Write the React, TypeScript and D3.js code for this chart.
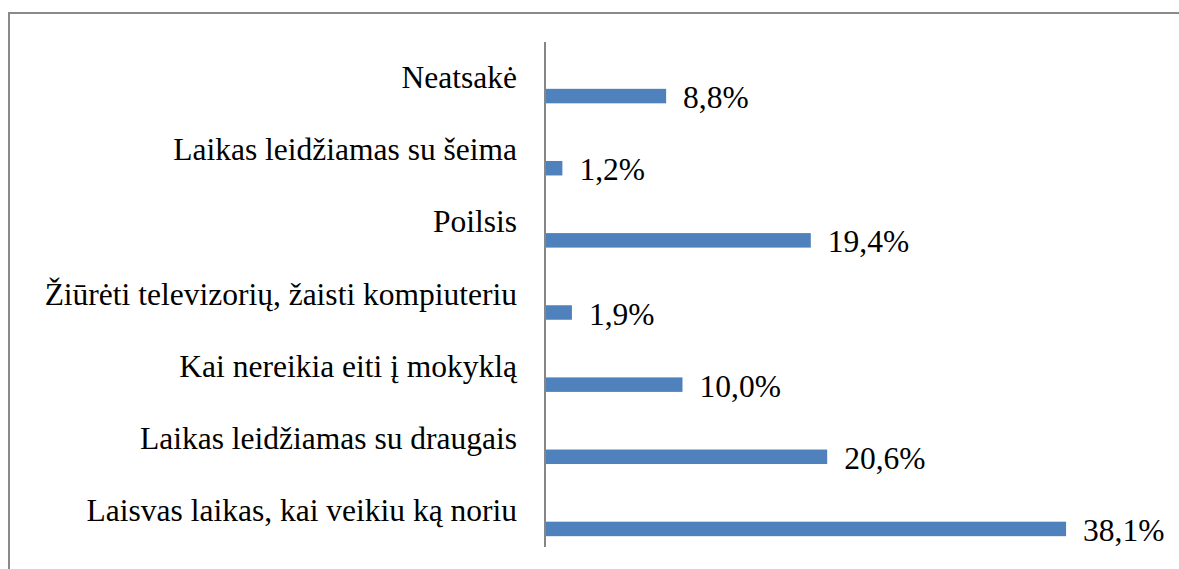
import { useEffect, useRef } from 'react';
import * as d3 from 'd3';

const categories = [
  'Neatsakė',
  'Laikas leidžiamas su šeima',
  'Poilsis',
  'Žiūrėti televizorių, žaisti kompiuteriu',
  'Kai nereikia eiti į mokyklą',
  'Laikas leidžiamas su draugais',
  'Laisvas laikas, kai veikiu ką noriu',
];
const values = [8.8, 1.2, 19.4, 1.9, 10.0, 20.6, 38.1];
const valueLabels = ['8,8%', '1,2%', '19,4%', '1,9%', '10,0%', '20,6%', '38,1%'];

export default function App() {
  const svgRef = useRef<SVGSVGElement | null>(null);

  useEffect(() => {
    if (!svgRef.current) return;
    const svg = d3.select(svgRef.current);
    svg.selectAll('*').remove();

    const width = 1179;
    const height = 569;
    const axisX = 545;
    const top = 42;
    const bottom = 547;
    const font = "'Liberation Serif', serif";

    const data = categories.map((c, i) => ({ cat: c, value: values[i], label: valueLabels[i] }));

    const x = d3.scaleLinear().domain([0, 40]).range([axisX + 1, axisX + 1 + 546]);
    const y = d3.scaleBand().domain(categories).range([top, bottom]);
    const barOffset = 18;
    const barH = 14.5;

    // outer frame
    svg.append('rect')
      .attr('x', 9)
      .attr('y', 13)
      .attr('width', width + 20)
      .attr('height', height + 20)
      .attr('fill', 'white')
      .attr('stroke', '#8a8a8a')
      .attr('stroke-width', 2);

    // bars
    svg.append('g')
      .selectAll('rect')
      .data(data)
      .join('rect')
      .attr('x', x(0))
      .attr('y', d => y(d.cat)! + y.bandwidth() / 2 + barOffset - barH / 2)
      .attr('width', d => x(d.value) - x(0))
      .attr('height', barH)
      .attr('fill', '#4f81bd');

    // category axis
    svg.append('line')
      .attr('x1', axisX).attr('x2', axisX)
      .attr('y1', top).attr('y2', bottom)
      .attr('stroke', '#868686')
      .attr('stroke-width', 2);

    svg.append('g')
      .attr('font-family', font)
      .attr('font-size', 31.5)
      .attr('fill', '#000')
      .attr('text-anchor', 'end')
      .selectAll('text')
      .data(data)
      .join('text')
      .attr('x', 517)
      .attr('y', d => y(d.cat)! + y.bandwidth() / 2 + 10)
      .text(d => d.cat);

    // value labels
    svg.append('g')
      .attr('font-family', font)
      .attr('font-size', 31.5)
      .attr('fill', '#000')
      .selectAll('text')
      .data(data)
      .join('text')
      .attr('x', d => x(d.value) + 17)
      .attr('y', d => y(d.cat)! + y.bandwidth() / 2 + barOffset + 12)
      .text(d => d.label);
  }, []);

  return (
    <svg
      ref={svgRef}
      width={1179}
      height={569}
      style={{ position: 'absolute', left: 0, top: 0, background: 'white' }}
    />
  );
}
